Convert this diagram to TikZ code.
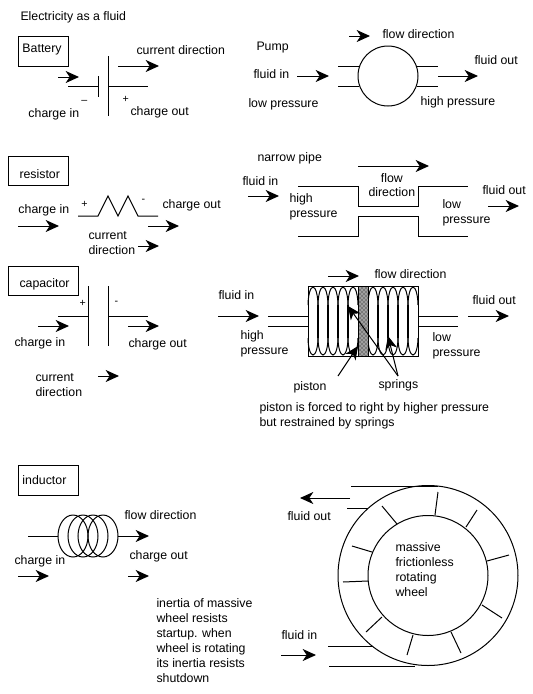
\documentclass[tikz,border=0pt]{standalone}
\usepackage{fontspec}
\setmainfont{Liberation Sans}
\usetikzlibrary{arrows.meta,patterns}

\tikzset{
	lbl/.style={anchor=west,inner sep=0pt,align=left,font=\fontsize{9.25pt}{10.9pt}\selectfont},
	tag/.style={draw,line width=0.75pt,minimum height=22pt,inner sep=0pt},
	flow/.style={-{Stealth[length=10pt,width=9pt,inset=3pt]},line width=0.75pt},
	wire/.style={line width=0.75pt},
	coilbar/.style={line width=1.5pt}
}
\newcommand{\signfont}{\fontsize{8pt}{9pt}\selectfont}

\begin{document}
\begin{tikzpicture}[x=0.75pt,y=-0.75pt,line width=0.75pt]
	\useasboundingbox (0,0) rectangle (533,694);
	\node[lbl] (title) at (20,17) {Electricity as a fluid};

	% Battery
	\node[tag,minimum width=37.5pt] (battery) at (43,51.5) {};
	\node[lbl] (batterytext) at (22,50) {Battery};
	\coordinate (BL) at (98,86);
	\coordinate (BR) at (108,86);
	\draw[wire] (68,86) -- (BL);
	\draw[wire] (BR) -- (148,86);
	\draw[wire] (98,76) -- (98,97);
	\draw[wire] (108,56) -- (108,116);
	\draw[flow] (58,77) -- (79,77);
	\draw[flow] (118,66) -- (159,66);
	\node[lbl] (bminus) at (81,102) {\signfont --};
	\node[lbl] (bplus) at (122,99) {\signfont +};
	\node[lbl] (bin) at (28,114) {charge in};
	\node[lbl] (bout) at (130,112) {charge out};
	\node[lbl] (bcur) at (136,50) {current direction};

	% Pump
	\node[lbl] (pumptext) at (256,48) {Pump};
	\node[draw,wire,circle,minimum size=45pt,inner sep=0pt] (pump) at (388,76) {};
	\foreach \yy in {66,86} {
		\draw[wire] (338,\yy) -- (359,\yy);
		\draw[wire] (417,\yy) -- (438,\yy);
	}
	\draw[flow] (349,36) -- (370,36);
	\draw[flow] (297,76) -- (329,76);
	\draw[flow] (438,76) -- (478,76);
	\node[lbl] (pflow) at (382,34) {flow direction};
	\node[lbl] (pin) at (253,74) {fluid in};
	\node[lbl] (pout) at (474,60) {fluid out};
	\node[lbl] (plow) at (248,104) {low pressure};
	\node[lbl] (phigh) at (420,102) {high pressure};

	% Resistor
	\node[tag,minimum width=45pt] (resistor) at (38,171) {};
	\node[lbl] (resistortext) at (19,174) {resistor};
	\draw[wire] (78,216) -- (98,216) -- (108,196) -- (118,216) -- (128,196) -- (138,216) -- (158,216);
	\draw[flow] (18,226) -- (59,226);
	\draw[flow] (148,226) -- (179,226);
	\draw[flow] (138,246) -- (159,246);
	\node[lbl] (rplus) at (81,204) {\signfont +};
	\node[lbl] (rminus) at (141,201) {\signfont -};
	\node[lbl] (rin) at (18,210) {charge in};
	\node[lbl] (rout) at (162,205) {charge out};
	\node[lbl] (rcur) at (88,243) {current\\direction};

	% Narrow pipe
	\node[lbl] (ntext) at (257,158) {narrow pipe};
	\draw[wire] (298,186) -- (358,186) -- (358,206) -- (418,206) -- (418,186) -- (468,186);
	\draw[wire] (298,236) -- (358,236) -- (358,216) -- (418,216) -- (418,236) -- (468,236);
	\draw[flow] (358,166) -- (429,166);
	\draw[flow] (248,196) -- (279,196);
	\draw[flow] (488,206) -- (519,206);
	\node[lbl,align=center] (nflow) at (368,185) {flow\\direction};
	\node[lbl] (nin) at (242,181) {fluid in};
	\node[lbl] (nout) at (482,190) {fluid out};
	\node[lbl] (nhigh) at (289,207) {high\\pressure};
	\node[lbl] (nlow) at (442,213) {low\\pressure};

	% Capacitor
	\node[tag,minimum width=52.5pt] (capacitor) at (43,281) {};
	\node[lbl] (capacitortext) at (19,284) {capacitor};
	\draw[wire] (58,316) -- (88,316);
	\draw[wire] (108,316) -- (148,316);
	\draw[wire] (88,286) -- (88,346);
	\draw[wire] (108,286) -- (108,346);
	\draw[flow] (38,326) -- (69,326);
	\draw[flow] (128,326) -- (159,326);
	\draw[flow] (98,376) -- (119,376);
	\node[lbl] (cplus) at (79,303) {\signfont +};
	\node[lbl] (cminus) at (114,303) {\signfont -};
	\node[lbl] (cin) at (14,343) {charge in};
	\node[lbl] (cout) at (128,344) {charge out};
	\node[lbl] (ccur) at (35,385) {current\\direction};

	% Piston and springs
	\foreach \xx in {308,318,328,338,348,368,378,388,398,408} {
		\draw[wire] (\xx,305) .. controls (\xx,297) and (\xx+2,287) .. (\xx+5,287) .. controls (\xx+8,287) and (\xx+10,297) .. (\xx+10,305);
		\draw[wire] (\xx,338) .. controls (\xx,346) and (\xx+2,355) .. (\xx+5,355) .. controls (\xx+8,355) and (\xx+10,346) .. (\xx+10,338);
	}
	\foreach \xx in {318,328,338,348,378,388,398,408} {
		\draw[coilbar] (\xx,305) -- (\xx,338);
	}
	\draw[wire] (308,286) rectangle (418,356);
	\fill[gray!75] (358,286) rectangle (368,356);
	\draw[wire,pattern=crosshatch dots,pattern color=black] (358,286) rectangle (368,356);
	\foreach \yy in {316,326} {
		\draw[wire] (268,\yy) -- (308,\yy);
		\draw[wire] (418,\yy) -- (458,\yy);
	}
	\draw[flow] (328,276) -- (359,276);
	\draw[flow] (218,316) -- (259,316);
	\draw[flow] (468,316) -- (509,316);
	\coordinate (pistonfoot) at (338,376);
	\coordinate (springfoot) at (398,376);
	\draw[flow] (pistonfoot) -- (358,346);
	\draw[flow] (springfoot) -- (348,306);
	\draw[flow] (springfoot) -- (388,336);
	\node[lbl] (hflow) at (374,274) {flow direction};
	\node[lbl] (hin) at (218,295) {fluid in};
	\node[lbl] (hout) at (472,300) {fluid out};
	\node[lbl] (hhigh) at (240,344) {high\\pressure};
	\node[lbl] (hlow) at (432,346) {low\\pressure};
	\node[lbl] (piston) at (293,387) {piston};
	\node[lbl] (springs) at (378,385) {springs};
	\node[lbl] (pistonnote) at (259,416) {piston is forced to right by higher pressure\\but restrained by springs};

	% Inductor
	\node[tag,minimum width=45pt] (inductor) at (48,480.5) {};
	\node[lbl] (inductortext) at (22,480) {inductor};
	\foreach \xx in {73,83,93,103} {
		\draw[wire] (\xx,536) ellipse (15 and 21);
	}
	\draw[wire] (28,536) -- (58,536);
	\draw[flow] (118,536) -- (149,536);
	\draw[flow] (18,576) -- (49,576);
	\draw[flow] (128,576) -- (149,576);
	\node[lbl] (iflow) at (124,515) {flow direction};
	\node[lbl] (iout) at (129,556) {charge out};
	\node[lbl] (iin) at (14,561) {charge in};
	\node[lbl,font=\fontsize{9.25pt}{11.25pt}\selectfont] (inote) at (156,640.5) {inertia of massive\\wheel resists\\startup. when\\wheel is rotating\\its inertia resists\\shutdown};

	% Wheel
	\coordinate (W) at (428,575.5);
	\draw[wire] (W) circle (90);
	\draw[wire] (W) circle (60);
	\draw[wire] (438,492) -- (435,515);
	\draw[wire] (477,510) -- (466,527);
	\draw[wire] (509,555) -- (487,561);
	\draw[wire] (502,618) -- (482,605);
	\draw[wire] (461,653) -- (451,632);
	\draw[wire] (407,655) -- (413,635);
	\draw[wire] (366,632) -- (382,617);
	\draw[wire] (343,582) -- (368,581);
	\draw[wire] (352,546) -- (372,552);
	\draw[wire] (382,506) -- (397,524);
	\draw[wire] (351,486) -- (438,486);
	\draw[wire] (347,508) -- (368,508);
	\draw[wire] (328,646) -- (372,646);
	\draw[wire] (329,666) -- (415,666);
	\draw[flow] (350,498) -- (300,498);
	\draw[flow] (281,655) -- (316,655);
	\node[lbl] (wout) at (287,516) {fluid out};
	\node[lbl] (win) at (281,635) {fluid in};
	\node[lbl,font=\fontsize{9.25pt}{11.25pt}\selectfont] (wtext) at (395,569.5) {massive\\frictionless\\rotating\\wheel};
\end{tikzpicture}
\end{document}
